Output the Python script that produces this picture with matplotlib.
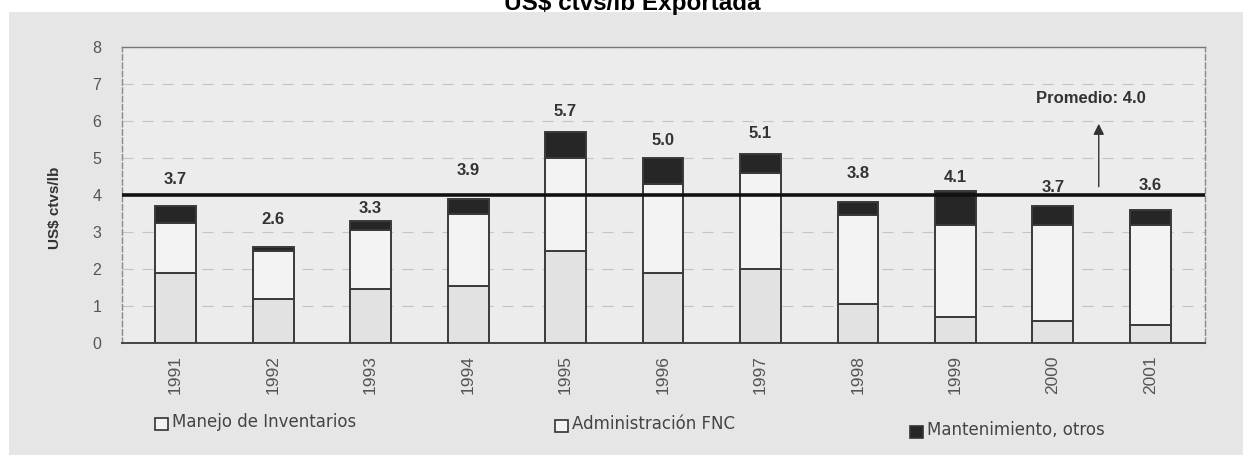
import matplotlib
matplotlib.use("Agg")
import matplotlib.pyplot as plt
from matplotlib.patches import Rectangle

# Costo de comercialización por año (US$ ctvs/lb exportada)
years = ["1991", "1992", "1993", "1994", "1995", "1996", "1997", "1998", "1999", "2000", "2001"]
manejo = [1.90, 1.20, 1.45, 1.55, 2.50, 1.90, 2.00, 1.05, 0.70, 0.60, 0.50]
administracion = [1.35, 1.30, 1.60, 1.95, 2.50, 2.40, 2.60, 2.40, 2.50, 2.60, 2.70]
mantenimiento = [0.45, 0.10, 0.25, 0.40, 0.70, 0.70, 0.50, 0.35, 0.90, 0.50, 0.40]
totales = [3.7, 2.6, 3.3, 3.9, 5.7, 5.0, 5.1, 3.8, 4.1, 3.7, 3.6]
promedio = 4.0
series_names = ["Manejo de Inventarios", "Administración FNC", "Mantenimiento, otros"]
title = "US$ ctvs/lb Exportada"
ylabel = "US$ ctvs/lb"

plt.rcParams["font.family"] = ["Liberation Sans", "DejaVu Sans"]

W, H = 1243, 458
fig = plt.figure(figsize=(W / 100, H / 100), dpi=100, facecolor="white")

# grey panel behind the chart
fig.patches.append(Rectangle((9 / W, 3 / H), (W - 9) / W, (455 - 12) / H,
                             transform=fig.transFigure, facecolor="#e6e6e6",
                             edgecolor="none", zorder=-5))

ax = fig.add_axes([122 / W, 1 - 343 / H, (1205 - 122) / W, (343 - 47) / H])
ax.set_zorder(1)
ax.set_facecolor("#ececec")

x = list(range(len(years)))
edge = "#3a3a3a"
width = 0.42
b1 = ax.bar(x, manejo, width, color="#e2e2e2", edgecolor=edge, linewidth=1.4, zorder=3)
b2 = ax.bar(x, administracion, width, bottom=manejo, color="#f3f3f3",
            edgecolor=edge, linewidth=1.4, zorder=3)
base3 = [m + a for m, a in zip(manejo, administracion)]
b3 = ax.bar(x, mantenimiento, width, bottom=base3, color="#262626",
            edgecolor=edge, linewidth=1.4, zorder=3)

# total labels above each bar
label_offsets = [27, 27, 12, 28, 21, 18, 21, 29, 14, 19, 24]
for xi, tot, off in zip(x, totales, label_offsets):
    ax.annotate(f"{tot:.1f}", xy=(xi, tot), xytext=(0, off),
                textcoords="offset pixels", ha="center", va="center",
                fontsize=12, fontweight="bold", color="#333333", zorder=5)

# average line
ax.axhline(promedio, color="#111111", linewidth=2.6, zorder=4)
ax.annotate("", xy=(9.47, 6.0), xytext=(9.47, 4.15),
            arrowprops=dict(arrowstyle="-|>", color="#333333", lw=1.0,
                            mutation_scale=16), zorder=5)
ax.text(9.39, 6.6, f"Promedio: {promedio:.1f}", ha="center", va="center",
        fontsize=12, fontweight="bold", color="#333333", zorder=5)

ax.set_xlim(-0.55, 10.56)
ax.set_ylim(0, 8)
ax.set_yticks(range(0, 9))
ax.set_xticks(x)
ax.set_xticklabels(years, rotation=90, fontsize=12.5, color="#555555")
ax.tick_params(axis="y", length=0, pad=15, labelsize=11.5, labelcolor="#555555")
ax.tick_params(axis="x", length=0, pad=9)

ax.yaxis.grid(True, color="#c4c4c4", linestyle=(0, (10, 8)), linewidth=0.8, zorder=1)
ax.set_axisbelow(True)

for side in ("left", "right"):
    ax.spines[side].set_linestyle((0, (4, 2)))
    ax.spines[side].set_color("#8a8a8a")
    ax.spines[side].set_linewidth(1.0)
ax.spines["top"].set_color("#777777")
ax.spines["top"].set_linewidth(1.0)
ax.spines["bottom"].set_color("#444444")
ax.spines["bottom"].set_linewidth(1.4)

fig.text(632 / W, 1 - 10 / H, title, ha="center", va="baseline",
         fontsize=17.5, fontweight="bold", color="black")
fig.text(55 / W, 1 - 208 / H, ylabel, rotation=90, ha="center", va="center",
         fontsize=11, fontweight="bold", color="#333333")

# legend row
legend_items = [
    (155, 424, "#f3f3f3", series_names[0]),
    (555, 426, "#f3f3f3", series_names[1]),
    (910, 432, "#262626", series_names[2]),
]
for px, py, fc, name in legend_items:
    fig.patches.append(Rectangle((px / W, 1 - (py + 6) / H), 13 / W, 12 / H,
                                 transform=fig.transFigure, facecolor=fc,
                                 edgecolor="#333333", linewidth=1.2, zorder=3))
    fig.text((px + 17) / W, 1 - (py - 2) / H, name, ha="left", va="center",
             fontsize=12, color="#444444", family=["DejaVu Sans"])

fig.savefig("out.png", dpi=100, facecolor="white")
